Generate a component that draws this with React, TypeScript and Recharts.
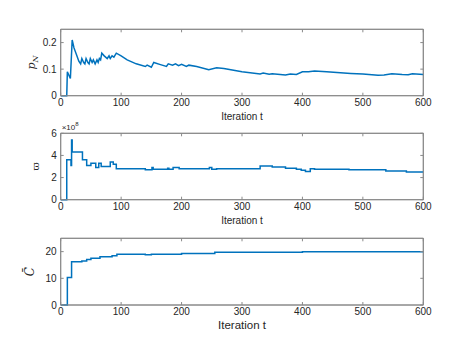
import React from "react";
import { LineChart, Line, XAxis, YAxis, ReferenceArea } from "recharts";

// p_N
const pnT = [0, 10, 11, 13, 16, 19, 22, 26, 30, 33, 35, 38, 40, 42, 45, 47, 49, 52, 54, 57, 60, 62, 64, 66, 68, 72, 77, 80, 82, 85, 88, 92, 100, 110, 125, 140, 143, 150, 154, 165, 175, 178, 185, 190, 195, 200, 208, 212, 225, 245, 258, 270, 300, 330, 335, 345, 350, 372, 380, 390, 400, 410, 420, 440, 480, 500, 525, 535, 548, 565, 575, 582, 600];
const pnV = [0, 0, 0.09, 0.08, 0.065, 0.21, 0.18, 0.155, 0.13, 0.12, 0.14, 0.125, 0.12, 0.14, 0.125, 0.12, 0.14, 0.125, 0.135, 0.12, 0.135, 0.125, 0.14, 0.135, 0.16, 0.15, 0.14, 0.15, 0.14, 0.15, 0.145, 0.16, 0.15, 0.135, 0.12, 0.11, 0.115, 0.107, 0.125, 0.117, 0.11, 0.12, 0.115, 0.12, 0.113, 0.118, 0.11, 0.115, 0.11, 0.098, 0.105, 0.102, 0.09, 0.082, 0.085, 0.081, 0.083, 0.078, 0.082, 0.08, 0.09, 0.09, 0.093, 0.09, 0.084, 0.082, 0.077, 0.078, 0.083, 0.08, 0.079, 0.083, 0.08];

// omega (x 1e8), step values
const omT = [0, 10, 17, 18, 19, 36, 43, 50, 58, 63, 67, 82, 87, 92, 140, 151, 153, 177, 179, 186, 196, 246, 250, 258, 330, 350, 372, 390, 398, 405, 413, 420, 477, 538, 572, 600];
const omV = [0, 3.6, 3.1, 5.4, 4.3, 3.6, 3.1, 3.3, 2.9, 3.3, 3.0, 3.4, 3.2, 2.8, 2.7, 2.9, 2.75, 2.85, 2.75, 2.9, 2.8, 2.9, 2.75, 2.8, 3.05, 2.95, 2.85, 2.75, 2.65, 2.55, 2.8, 2.75, 2.7, 2.6, 2.5, 2.5];

// C bar, step values
const cT = [0, 11, 18, 35, 43, 50, 65, 85, 93, 140, 150, 200, 255, 400, 600];
const cV = [0, 10.3, 16.2, 16.5, 17.1, 17.5, 18.1, 18.5, 19.0, 18.8, 19.0, 19.3, 19.8, 20.0, 20.0];

const xTicks = [0, 100, 200, 300, 400, 500, 600];

const BLUE = "#0072BD";
const AXIS = "#8a8a8a";
const TXT = "#262626";
const FONT = "'Liberation Sans', Arial, sans-serif";

const PLOT_L = 60.7;
const PLOT_R = 423.3;
const W = 467;
const H = 350;
const YW = 40;
const XH = 28;
const TH = 2;

interface PanelProps {
  data: { t: number; v: number }[];
  top: number;
  bottom: number;
  yDomain: [number, number];
  yTicks: number[];
  step?: boolean;
  xLabelSize: number;
  yLabel: (cx: number, cy: number) => React.ReactNode;
  extra?: (x: number, y: number) => React.ReactNode;
}

function Panel({ data, top, bottom, yDomain, yTicks, step, xLabelSize, yLabel, extra }: PanelProps) {
  const tickStyle = { fontSize: 10, fill: TXT, fontFamily: FONT };
  return (
    <div style={{ position: "absolute", left: 0, top: 0 }}>
      <LineChart
        width={W}
        height={H}
        data={data}
        margin={{ top: top - TH, bottom: H - bottom - XH, left: PLOT_L - YW, right: W - PLOT_R - YW }}
      >
        <XAxis
          dataKey="t"
          type="number"
          domain={[0, 600]}
          ticks={xTicks}
          height={XH}
          tick={tickStyle}
          tickSize={-3}
          tickMargin={6}
          stroke={AXIS}
          label={() => (
            <text
              x={PLOT_L + (PLOT_R - PLOT_L) / 2}
              y={bottom + 24}
              textAnchor="middle"
              fontSize={xLabelSize}
              fill={TXT}
              fontFamily={FONT}
            >
              Iteration t
            </text>
          )}
        />
        <XAxis
          xAxisId="top"
          orientation="top"
          dataKey="t"
          type="number"
          domain={[0, 600]}
          ticks={xTicks}
          height={TH}
          tickFormatter={() => ""}
          tickSize={-3}
          stroke={AXIS}
        />
        <YAxis
          type="number"
          domain={yDomain}
          ticks={yTicks}
          width={YW}
          tick={tickStyle}
          tickSize={-3}
          tickMargin={7}
          stroke={AXIS}
          label={() => (
            <g>
              {yLabel(PLOT_L - 24, (top + bottom) / 2)}
              {extra ? extra(PLOT_L, top) : null}
            </g>
          )}
        />
        <YAxis
          yAxisId="right"
          orientation="right"
          type="number"
          domain={yDomain}
          ticks={yTicks}
          width={YW}
          tickFormatter={() => ""}
          tickSize={-3}
          stroke={AXIS}
        />
        <ReferenceArea
          x1={0}
          x2={600}
          y1={yDomain[0]}
          y2={yDomain[1]}
          fill="none"
          stroke={AXIS}
          strokeWidth={1}
          ifOverflow="visible"
        />
        {/* invisible series so the top/right box axes get drawn */}
        <Line
          xAxisId="top"
          yAxisId="right"
          dataKey="v"
          stroke="none"
          dot={false}
          activeDot={false}
          isAnimationActive={false}
        />
        <Line
          dataKey="v"
          type={step ? "stepAfter" : "linear"}
          stroke={BLUE}
          strokeWidth={1.5}
          dot={false}
          isAnimationActive={false}
        />
      </LineChart>
    </div>
  );
}

export default function App() {
  const pn = pnT.map((t, i) => ({ t, v: pnV[i] }));
  const om = omT.map((t, i) => ({ t, v: omV[i] }));
  const cb = cT.map((t, i) => ({ t, v: cV[i] }));

  return (
    <div style={{ position: "fixed", left: 0, top: 0, width: W, height: H, background: "#fff" }}>
      <Panel
        data={pn}
        top={29.3}
        bottom={95.7}
        yDomain={[0, 0.25]}
        yTicks={[0, 0.1, 0.2]}
        xLabelSize={10}
        yLabel={(cx, cy) => (
          <text
            transform={`translate(${cx - 2},${cy}) rotate(-90)`}
            textAnchor="middle"
            fontSize={11}
            fill={TXT}
            fontFamily="'DejaVu Serif', serif"
          >
            <tspan fontStyle="italic">p</tspan>
            <tspan fontSize={8} fontStyle="italic" dy={3}>N</tspan>
          </text>
        )}
      />
      <Panel
        data={om}
        top={133.3}
        bottom={199.7}
        yDomain={[0, 6]}
        yTicks={[0, 2, 4, 6]}
        step
        xLabelSize={10}
        yLabel={(cx, cy) => (
          <text
            transform={`translate(${cx + 2},${cy}) rotate(-90)`}
            textAnchor="middle"
            fontSize={10}
            fill={TXT}
            fontFamily="'DejaVu Serif', serif"
          >
            ϖ
          </text>
        )}
        extra={(x, y) => (
          <text x={x + 1} y={y - 3} fontSize={8} fill={TXT} fontFamily={FONT}>
            ×10
            <tspan fontSize={6} dy={-4}>8</tspan>
          </text>
        )}
      />
      <Panel
        data={cb}
        top={238.3}
        bottom={305}
        yDomain={[0, 25]}
        yTicks={[0, 10, 20]}
        step
        xLabelSize={11.5}
        yLabel={(cx, cy) => (
          <text
            transform={`translate(${cx - 3},${cy}) rotate(-90)`}
            textAnchor="middle"
            fontSize={12}
            fill={TXT}
            fontFamily="'DejaVu Serif', serif"
            fontStyle="italic"
          >
            C̄
          </text>
        )}
      />
    </div>
  );
}
